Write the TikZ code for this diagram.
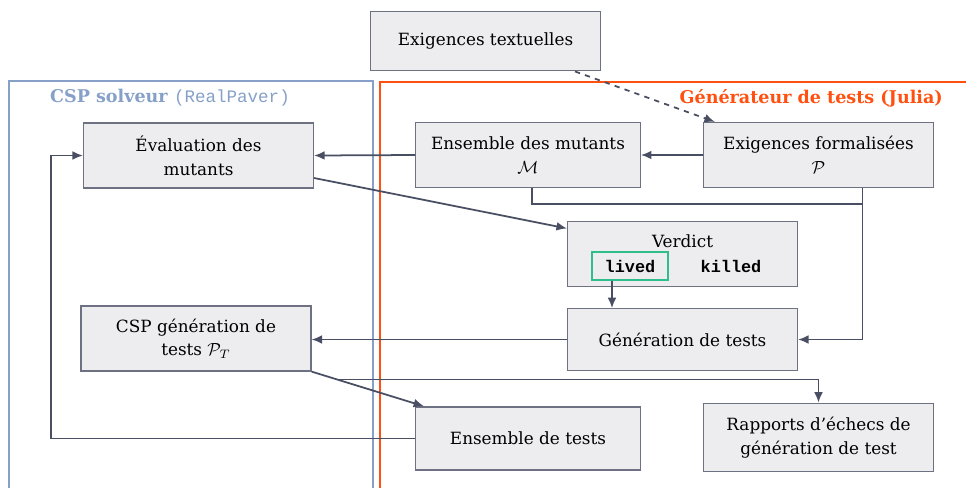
\documentclass[tikz,border=0pt]{standalone}
\usepackage{fontspec}
\setmainfont{DejaVu Serif}
\setmonofont{Liberation Mono}
\usetikzlibrary{arrows, arrows.meta, positioning, calc}

\definecolor{boxfill}{RGB}{237,237,240}
\definecolor{boxdraw}{RGB}{110,113,130}
\definecolor{linkcol}{RGB}{74,78,98}
\definecolor{cspblue}{RGB}{134,160,200}
\definecolor{genorange}{RGB}{255,80,16}
\definecolor{verdgreen}{RGB}{45,190,140}

\tikzset{
  stepbox/.style={rectangle, draw=boxdraw, fill=boxfill, align=center, line width=0.7pt, minimum width=131pt, minimum height=37pt, inner sep=2pt},
  link/.style={draw=linkcol, line width=1pt, >={Latex[length=6pt,width=5pt]}},
  frame/.style={line width=1pt}
}

\begin{document}
\begin{tikzpicture}[x=0.57pt, y=-0.57pt, font=\fontsize{9.6}{13.5}\selectfont]
\useasboundingbox (0,0) rectangle (966,487);
% frames
\draw[frame, cspblue] (9,81) rectangle (373,520);
\draw[frame, genorange] (380,82) rectangle (990,520);
\node [text=cspblue, font=\bfseries] (csptitle) at (170,98) {CSP solveur \texttt{\mdseries(RealPaver)}};
\node [text=genorange, font=\bfseries, anchor=east] (gentitle) at (949,98) {Générateur de tests (Julia)};
% boxes
\node [stepbox, minimum height=34pt] (txt) at (485.5,41) {Exigences textuelles};
\node [stepbox] (eval) at (198.5,155.5) {Évaluation des\\mutants};
\node [stepbox, minimum width=128pt] (mutants) at (528,155) {Ensemble des mutants\\$\mathcal{M}$};
\node [stepbox] (formal) at (818.5,155) {Exigences formalisées\\$\mathcal{P}$};
\node [stepbox] (verdict) at (682.5,254) {};
\node (verdtitle) at (682.5,241) {Verdict};
\node [draw=verdgreen, line width=1pt, inner sep=2pt, minimum width=43pt, minimum height=16pt] (lived) at (630,266) {\ttfamily\bfseries lived};
\node (killed) at (731,266) {\ttfamily\bfseries killed};
\node [stepbox, minimum height=35pt] (gen) at (682.5,339.5) {Génération de tests};
\node [stepbox] (csp) at (196,338.5) {CSP génération de\\tests $\mathcal{P}_T$};
\node [stepbox, minimum width=128pt, minimum height=36pt] (tests) at (528,438.5) {Ensemble de tests};
\node [stepbox, minimum height=39pt] (rapports) at (818.5,437.5) {Rapports d’échecs de\\génération de test};
% links
\draw[link, dashed, ->] ($(txt.south)+(89.5,0)$) -- ($(formal.north west)+(12,0)$);
\draw[link, ->] (formal.west) -- (mutants.east);
\draw[link, ->] (mutants.west) -- (eval.east);
\draw[link, ->] ($(eval.east)+(0,22.5)$) -- ($(verdict.north west)+(0,7.5)$);
\draw[link] ($(mutants.south)+(4,0)$) |- ($(formal.south)+(44,16)$);
\draw[link, ->] ($(formal.south)+(44,0)$) |- (gen.east);
\draw[link, ->] ($(lived.south)+(-18,0)$) -- ($(gen.north)+(-70.5,0)$);
\draw[link, ->] (gen.west) -- (gen.west -| csp.east);
\draw[link, ->] (csp.south east) -- ($(tests.north west)+(9,0)$) coordinate[pos=0.23] (split);
\draw[link, ->] (split) -| (rapports.north);
\draw[link, ->] (tests.west) -- ++(-364,0) |- (eval.west);
\end{tikzpicture}
\end{document}
